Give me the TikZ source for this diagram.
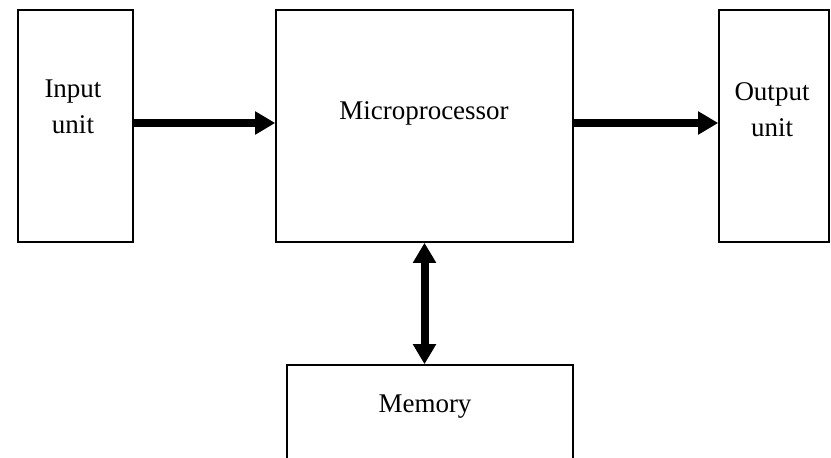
\documentclass[tikz,border=0pt]{standalone}
\usepackage{fontspec}
\setmainfont{Liberation Serif}
\usetikzlibrary{arrows.meta}

\tikzset{
  blockbox/.style={draw, line width=1.6pt, inner sep=0pt},
  blocklabel/.style={font=\fontsize{27}{36}\selectfont, inner sep=0pt, align=center},
  bustip/.tip={Triangle[length=20pt,width=22pt]},
  busarrow/.style={line width=8pt, -bustip},
}

\begin{document}
\begin{tikzpicture}[x=1pt,y=-1pt]
\useasboundingbox (0,0) rectangle (831,458);
\clip (0,0) rectangle (831,458);
% draws blocks
\node[blockbox, minimum width=115pt, minimum height=232pt] (inp) at (75.5,126) {};
\node[blockbox, minimum width=297pt, minimum height=232pt] (mp) at (424.5,126) {};
\node[blockbox, minimum width=110pt, minimum height=232pt] (out) at (774,126) {};
\node[blockbox, minimum width=286pt, minimum height=160pt] (mem) at (430,445) {};
% labels blocks
\node[blocklabel, anchor=north] (inplabel) at (73,80) {Input\\unit};
\node[blocklabel, anchor=base] (mplabel) at (424,119) {Microprocessor};
\node[blocklabel, anchor=north] (outlabel) at (772,82) {Output\\unit};
\node[blocklabel, anchor=base] (memlabel) at (425,412) {Memory};
% draws connectors
\draw[busarrow] ([yshift=3pt]inp.east) -- ([yshift=3pt]mp.west);
\draw[busarrow] ([yshift=3pt]mp.east) -- ([yshift=3pt]out.west);
\draw[busarrow, bustip-bustip] (mp.south) -- (mp.south |- mem.north);
\end{tikzpicture}
\end{document}
